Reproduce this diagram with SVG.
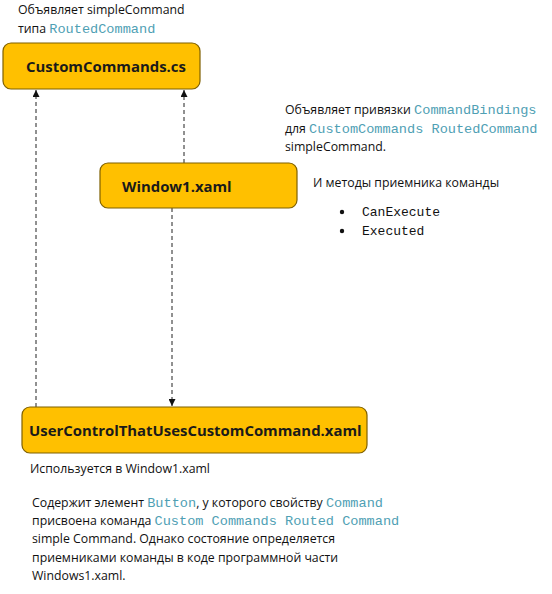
<svg xmlns="http://www.w3.org/2000/svg" width="552" height="594" viewBox="0 0 552 594">
<style>
.box{fill:#FFC000;stroke:#7F6000;stroke-width:1.2}
.lbl{font-family:"Open Sans","Noto Sans",sans-serif;font-weight:bold;font-size:14.9px;fill:#1a1a1a}
.t{font-family:"Open Sans","Noto Sans",sans-serif;font-size:12.3px;fill:#111}
.m{font-family:"Liberation Mono",monospace;font-size:13.6px;fill:#4FA0B4}
.mb{font-family:"Liberation Mono",monospace;font-size:13px;fill:#111}
.c{stroke:#222;stroke-width:1;stroke-dasharray:4,3;fill:none}
</style>
<defs>
<marker id="ah" viewBox="0 0 10 10" refX="10" refY="5" markerWidth="7" markerHeight="7" orient="auto" markerUnits="userSpaceOnUse">
<path d="M0,0 L10,5 L0,10 z" fill="#111"/>
</marker>
</defs>
<rect width="552" height="594" fill="#fff"/>
<g id="connectors">
<line class="c" x1="36" y1="407" x2="36" y2="90" marker-end="url(#ah)"/>
<line class="c" x1="184" y1="163" x2="184" y2="90" marker-end="url(#ah)"/>
<line class="c" x1="172" y1="208" x2="172" y2="406" marker-end="url(#ah)"/>
</g>
<g id="node-customcommands">
<rect class="box" x="3" y="43" width="197" height="46" rx="8"/>
<text class="lbl" x="26" y="72">CustomCommands.cs</text>
</g>
<g id="node-window1">
<rect class="box" x="100" y="163" width="197" height="45" rx="8"/>
<text class="lbl" x="122" y="192">Window1.xaml</text>
</g>
<g id="node-usercontrol">
<rect class="box" x="22" y="407" width="345" height="46" rx="8"/>
<text class="lbl" x="29" y="436">UserControlThatUsesCustomCommand.xaml</text>
</g>
<g id="notes">
<text class="t" x="18" y="14">Объявляет simpleCommand</text>
<text class="t" x="18" y="33">типа <tspan class="m">RoutedCommand</tspan></text>
<text class="t" x="285" y="114">Объявляет привязки <tspan class="m">CommandBindings</tspan></text>
<text class="t" x="285" y="133">для <tspan class="m">CustomCommands RoutedCommand</tspan></text>
<text class="t" x="285" y="151">simpleCommand.</text>
<text class="t" x="313" y="187">И методы приемника команды</text>
<circle cx="342" cy="212" r="2.2" fill="#111"/>
<text class="mb" x="362" y="216">CanExecute</text>
<circle cx="342" cy="231" r="2.2" fill="#111"/>
<text class="mb" x="362" y="235">Executed</text>
<text class="t" x="30" y="473">Используется в Window1.xaml</text>
<text class="t" x="32" y="507">Содержит элемент <tspan class="m">Button</tspan>, у которого свойству <tspan class="m">Command</tspan></text>
<text class="t" x="32" y="525">присвоена команда <tspan class="m">Custom Commands Routed Command</tspan></text>
<text class="t" x="32" y="543">simple Command. Однако состояние определяется</text>
<text class="t" x="32" y="562">приемниками команды в коде программной части</text>
<text class="t" x="32" y="580">Windows1.xaml.</text>
</g>
</svg>
